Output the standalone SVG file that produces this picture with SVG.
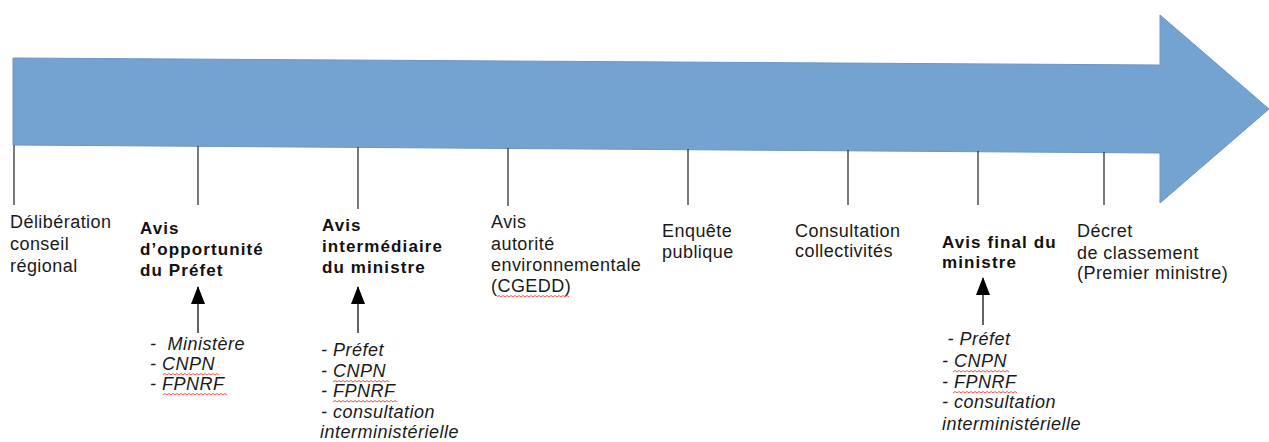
<svg xmlns="http://www.w3.org/2000/svg" xmlns:xlink="http://www.w3.org/1999/xlink" width="1269" height="442" viewBox="0 0 1269 442">
<style>
.t{font-family:"Liberation Sans",Arial,sans-serif;font-size:18px;fill:#1a1a1a;letter-spacing:0.45px}
.b{font-family:"Liberation Sans",Arial,sans-serif;font-size:17px;font-weight:bold;fill:#111;letter-spacing:1.1px}
.i{font-family:"Liberation Sans",Arial,sans-serif;font-size:18px;font-style:italic;fill:#1a1a1a;letter-spacing:0.5px;white-space:pre}
.tick{stroke:#333;stroke-width:1.3}
.conn{stroke:#222;stroke-width:1.4;fill:none}
.wave{stroke:#e8443a;stroke-width:0.9;fill:none}
</style>
<defs>
<marker id="ah" viewBox="0 0 18 14" refX="17" refY="7" markerWidth="18" markerHeight="14" markerUnits="userSpaceOnUse" orient="auto">
<path d="M0,0 L18,7 L0,14 Z" fill="#000"/>
</marker>
<path id="w56" class="wave" d="M0,0 l2,-1.5 l2,1.5 l2,-1.5 l2,1.5 l2,-1.5 l2,1.5 l2,-1.5 l2,1.5 l2,-1.5 l2,1.5 l2,-1.5 l2,1.5 l2,-1.5 l2,1.5 l2,-1.5 l2,1.5 l2,-1.5 l2,1.5 l2,-1.5 l2,1.5 l2,-1.5 l2,1.5 l2,-1.5 l2,1.5 l2,-1.5 l2,1.5 l2,-1.5 l2,1.5"/>
<path id="w64" class="wave" d="M0,0 l2,-1.5 l2,1.5 l2,-1.5 l2,1.5 l2,-1.5 l2,1.5 l2,-1.5 l2,1.5 l2,-1.5 l2,1.5 l2,-1.5 l2,1.5 l2,-1.5 l2,1.5 l2,-1.5 l2,1.5 l2,-1.5 l2,1.5 l2,-1.5 l2,1.5 l2,-1.5 l2,1.5 l2,-1.5 l2,1.5 l2,-1.5 l2,1.5 l2,-1.5 l2,1.5 l2,-1.5 l2,1.5 l2,-1.5 l2,1.5"/>
<path id="w70" class="wave" d="M0,0 l2,-1.5 l2,1.5 l2,-1.5 l2,1.5 l2,-1.5 l2,1.5 l2,-1.5 l2,1.5 l2,-1.5 l2,1.5 l2,-1.5 l2,1.5 l2,-1.5 l2,1.5 l2,-1.5 l2,1.5 l2,-1.5 l2,1.5 l2,-1.5 l2,1.5 l2,-1.5 l2,1.5 l2,-1.5 l2,1.5 l2,-1.5 l2,1.5 l2,-1.5 l2,1.5 l2,-1.5 l2,1.5 l2,-1.5 l2,1.5 l2,-1.5 l2,1.5 l2,-1.5 l2,1.5"/>
</defs>
<rect width="1269" height="442" fill="#fff"/>
<g id="timeline-arrow">
<path d="M13,58 L1160,65 L1160,15 L1269,109 L1160,203 L1160,153 L13,145 Z" fill="#74a2d1" stroke="#6a97c7" stroke-width="1"/>
</g>
<g id="connectors">
<line class="tick" x1="14" y1="145" x2="14" y2="205"/>
<line class="tick" x1="198" y1="146" x2="198" y2="205"/>
<line class="tick" x1="358" y1="147" x2="358" y2="209"/>
<line class="tick" x1="508" y1="148" x2="508" y2="206"/>
<line class="tick" x1="688" y1="149" x2="688" y2="205"/>
<line class="tick" x1="848" y1="150" x2="848" y2="205"/>
<line class="tick" x1="978" y1="151" x2="978" y2="205"/>
<line class="tick" x1="1104" y1="152" x2="1104" y2="205"/>
<line class="conn" x1="198" y1="333" x2="198" y2="287" marker-end="url(#ah)"/>
<line class="conn" x1="358" y1="333" x2="358" y2="287" marker-end="url(#ah)"/>
<line class="conn" x1="983" y1="325" x2="983" y2="278" marker-end="url(#ah)"/>
</g>
<g id="node-deliberation">
<text class="t" x="10" y="228">Délibération</text>
<text class="t" x="10" y="250">conseil</text>
<text class="t" x="10" y="272">régional</text>
</g>
<g id="node-avis-opportunite">
<text class="b" x="140" y="234">Avis</text>
<text class="b" x="140" y="255">d’opportunité</text>
<text class="b" x="140" y="276">du Préfet</text>
</g>
<g id="list-opportunite">
<text class="i" x="150" y="350">-  Ministère</text>
<text class="i" x="150" y="370">- CNPN</text>
<text class="i" x="150" y="390">- FPNRF</text>
<use xlink:href="#w56" x="163" y="375"/>
<use xlink:href="#w64" x="163" y="395"/>
</g>
<g id="node-avis-intermediaire">
<text class="b" x="322" y="231">Avis</text>
<text class="b" x="322" y="252">intermédiaire</text>
<text class="b" x="322" y="273">du ministre</text>
</g>
<g id="list-intermediaire">
<text class="i" x="321" y="356">- Préfet</text>
<text class="i" x="321" y="377">- CNPN</text>
<text class="i" x="321" y="397">- FPNRF</text>
<text class="i" x="321" y="418">- consultation</text>
<text class="i" x="320" y="438">interministérielle</text>
<use xlink:href="#w56" x="333" y="382"/>
<use xlink:href="#w64" x="333" y="402"/>
</g>
<g id="node-autorite-env">
<text class="t" x="491" y="228">Avis</text>
<text class="t" x="491" y="250">autorité</text>
<text class="t" x="491" y="271">environnementale</text>
<text class="t" x="491" y="292">(CGEDD)</text>
<use xlink:href="#w70" x="497" y="297"/>
</g>
<g id="node-enquete">
<text class="t" x="662" y="237">Enquête</text>
<text class="t" x="662" y="258">publique</text>
</g>
<g id="node-consultation">
<text class="t" x="795" y="237">Consultation</text>
<text class="t" x="795" y="257">collectivités</text>
</g>
<g id="node-avis-final">
<text class="b" x="942" y="248">Avis final du</text>
<text class="b" x="942" y="268">ministre</text>
</g>
<g id="list-final">
<text class="i" x="942" y="345"> - Préfet</text>
<text class="i" x="942" y="367">- CNPN</text>
<text class="i" x="942" y="388">- FPNRF</text>
<text class="i" x="942" y="408">- consultation</text>
<text class="i" x="942" y="430">interministérielle</text>
<use xlink:href="#w56" x="953" y="372"/>
<use xlink:href="#w64" x="953" y="393"/>
</g>
<g id="node-decret">
<text class="t" x="1077" y="237">Décret</text>
<text class="t" x="1077" y="259">de classement</text>
<text class="t" x="1077" y="279">(Premier ministre)</text>
</g>
</svg>
